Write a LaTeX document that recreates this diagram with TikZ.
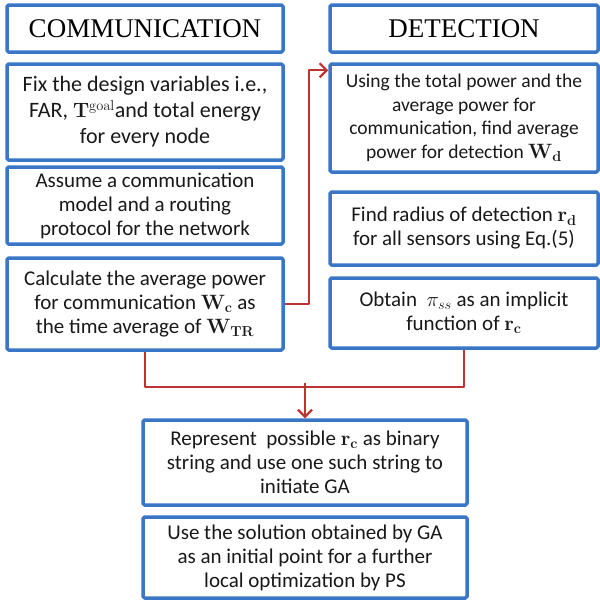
\documentclass[tikz,border=0pt]{standalone}
\usepackage[no-math]{fontspec}
\setmainfont{Carlito}
\newfontfamily\headfont{Liberation Serif}
\usetikzlibrary{arrows.meta}
\definecolor{boxblue}{RGB}{58,118,198}
\definecolor{linkred}{RGB}{192,50,50}

\begin{document}
\begin{tikzpicture}
[x=1pt,y=-1pt,line join=round,
>={Straight Barb[length=7pt,width=14pt]},
box/.style={draw=boxblue,line width=3.5pt,rounded corners=1.5pt,inner sep=0pt,fill=white},
head/.style={box,font=\headfont\fontsize{27}{30}\selectfont},
stage/.style={box,align=center,text=black!90,font=\fontsize{21}{24}\selectfont},
leftcol/.style={minimum width=276pt},
rightcol/.style={minimum width=268pt},
lowcol/.style={minimum width=324pt},
link/.style={draw=linkred,line width=2.2pt}]
\useasboundingbox (0,0) rectangle (600,603);

\node[head,leftcol,minimum height=47pt] (comm) at (145,28.5) {COMMUNICATION};
\node[head,rightcol,minimum height=47pt] (det) at (464,28.5) {DETECTION};

\node[stage,leftcol,minimum height=96pt,font=\fontsize{22}{26}\selectfont] (fix) at (145,112)
  {Fix the design variables i.e.,\\FAR, $\mathbf{T}^{\mathrm{goal}}$and total energy\\for every node};
\node[stage,leftcol,minimum height=77pt] (assume) at (145,205.5)
  {Assume a communication\\model and a routing\\protocol for the network};
\node[stage,leftcol,minimum height=92pt] (calc) at (145,304)
  {Calculate the average power\\for communication $\mathbf{W}_{\mathbf{c}}$ as\\the time average of $\mathbf{W}_{\mathbf{TR}}$};

\node[stage,rightcol,minimum height=108pt,font=\fontsize{19.5}{23.5}\selectfont] (using) at (464,118)
  {Using the total power and the\\average power for\\communication, find average\\power for detection $\mathbf{W}_{\mathbf{d}}$};
\node[stage,rightcol,minimum height=73pt] (radius) at (464,228.5)
  {Find radius of detection $\mathbf{r}_{\mathbf{d}}$\\for all sensors using Eq.(5)};
\node[stage,rightcol,minimum height=70pt] (obtain) at (464,313)
  {Obtain \ $\pi_{ss}$ as an implicit\\function of $\mathbf{r}_{\mathbf{c}}$};

\node[stage,lowcol,minimum height=85pt] (repr) at (305,462.5)
  {Represent \ possible $\mathbf{r}_{\mathbf{c}}$ as binary\\string and use one such string to\\initiate GA};
\node[stage,lowcol,minimum height=81pt] (use) at (305,557.5)
  {Use the solution obtained by GA\\as an initial point for a further\\local optimization by PS};

\draw[link,->] (calc.east) -- ++(24,0) |- ([yshift=-8pt]using.north west);
\draw[link] (calc.south) -- ++(0,35) -| (obtain.south);
\draw[link,->] ([yshift=35pt]repr.north) -- (repr.north);
\end{tikzpicture}
\end{document}
